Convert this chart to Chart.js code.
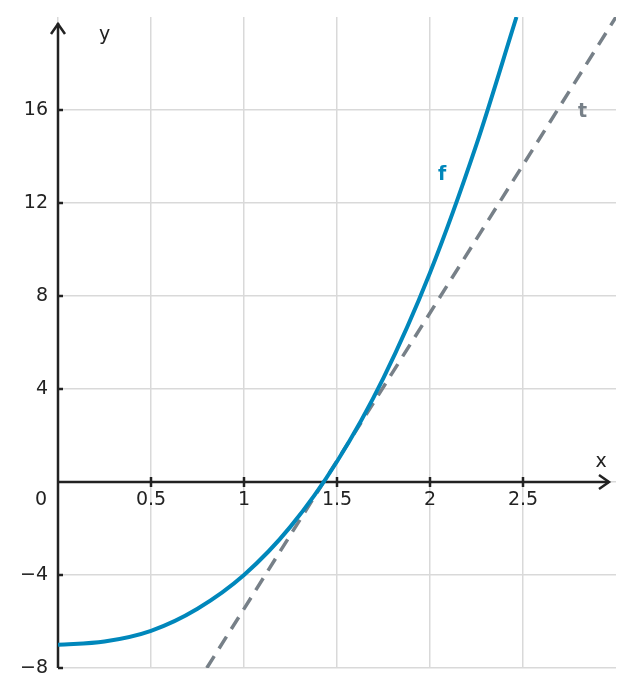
<!DOCTYPE html>
<html>
<head>
<meta charset="utf-8">
<script src="https://cdn.jsdelivr.net/npm/chart.js@4"></script>
<style>
  body { margin: 0; background: #fff; }
</style>
</head>
<body>
<canvas id="plotCanvas" width="633" height="696"></canvas>
<script>
// values
const fX = [0, 0.25, 0.5, 0.75, 1, 1.25, 1.5, 1.75, 2, 2.25, 2.465];
const fY = [-7, -6.86, -6.4, -5.45, -4, -1.92, 0.88, 4.48, 9, 14.52, 20];
const tX = [0.8, 3];
const tY = [-8, 20];

const xMin = 0, xMax = 3, xStep = 0.5;
const yMin = -8, yMax = 20, yStep = 4;

const blue = "#0087bb";
const gray = "#778088";
const ink = "#222222";
const font = "DejaVu Sans";

function toPoints(xs, ys) {
  var pts = [];
  for (let i = 0; i < xs.length; i++) {
    pts.push({ x: xs[i], y: ys[i] });
  }
  return pts;
}

function tickText(v) {
  return String(v).replace("-", "\u2212");
}

// axes through the origin, with arrows, tick marks and labels
const axesPlugin = {
  id: "axesPlugin",
  beforeDatasetsDraw(chart) {
    const ctx = chart.ctx;
    const xs = chart.scales.x, ys = chart.scales.y;
    const x0 = xs.getPixelForValue(0);
    const y0 = ys.getPixelForValue(0);
    const top = chart.chartArea.top, bottom = chart.chartArea.bottom;
    ctx.save();
    ctx.strokeStyle = ink;
    ctx.lineWidth = 2.5;
    ctx.lineCap = "butt";
    // y axis
    ctx.beginPath();
    ctx.moveTo(x0, bottom);
    ctx.lineTo(x0, top + 6);
    ctx.stroke();
    ctx.beginPath();
    ctx.moveTo(x0 - 7, top + 17);
    ctx.lineTo(x0, top + 7);
    ctx.lineTo(x0 + 7, top + 17);
    ctx.stroke();
    // x axis
    const xEnd = chart.chartArea.right - 7;
    ctx.beginPath();
    ctx.moveTo(x0, y0);
    ctx.lineTo(xEnd, y0);
    ctx.stroke();
    ctx.beginPath();
    ctx.moveTo(xEnd - 10, y0 - 7);
    ctx.lineTo(xEnd, y0);
    ctx.lineTo(xEnd - 10, y0 + 7);
    ctx.stroke();

    ctx.fillStyle = ink;
    ctx.font = "19px '" + font + "'";
    ctx.textBaseline = "middle";
    // x ticks and labels from the scale
    ctx.textAlign = "center";
    xs.ticks.forEach((t) => {
      if (t.value === 0 || t.value === xMax) return;
      const px = xs.getPixelForValue(t.value);
      ctx.beginPath();
      ctx.moveTo(px, y0 - 5);
      ctx.lineTo(px, y0 + 5);
      ctx.stroke();
      ctx.fillText(tickText(t.value), px, y0 + 18);
    });
    // y ticks and labels from the scale
    ctx.textAlign = "right";
    ys.ticks.forEach((t) => {
      if (t.value === 0 || t.value === yMax) return;
      const py = ys.getPixelForValue(t.value);
      ctx.beginPath();
      ctx.moveTo(x0, py);
      ctx.lineTo(x0 + 5, py);
      ctx.stroke();
      ctx.fillText(tickText(t.value), x0 - 10, py);
    });
    ctx.textAlign = "center";
    ctx.fillText("0", x0 - 17, y0 + 18);
    ctx.fillText("x", xs.getPixelForValue(2.92), y0 - 20);
    ctx.fillText("y", xs.getPixelForValue(0.25), top + 18);
    ctx.restore();
  },
  afterDatasetsDraw(chart) {
    const ctx = chart.ctx;
    const xs = chart.scales.x, ys = chart.scales.y;
    ctx.save();
    ctx.font = "bold 19px '" + font + "'";
    ctx.textAlign = "center";
    ctx.textBaseline = "middle";
    ctx.fillStyle = blue;
    ctx.fillText("f", xs.getPixelForValue(2.065), ys.getPixelForValue(13.2));
    ctx.fillStyle = gray;
    ctx.fillText("t", xs.getPixelForValue(2.82), ys.getPixelForValue(15.9));
    ctx.restore();
  }
};

new Chart(document.getElementById("plotCanvas"), {
  type: "scatter",
  data: {
    datasets: [
      {
        label: "f",
        data: toPoints(fX, fY),
        showLine: true,
        borderColor: blue,
        borderWidth: 4,
        pointRadius: 0,
        cubicInterpolationMode: "monotone"
      },
      {
        label: "t",
        data: toPoints(tX, tY),
        showLine: true,
        borderColor: gray,
        borderWidth: 3.5,
        borderDash: [14, 9],
        pointRadius: 0
      }
    ]
  },
  options: {
    responsive: false,
    animation: false,
    layout: { padding: { left: 58, top: 17, right: 17, bottom: 28 } },
    plugins: {
      legend: { display: false },
      tooltip: { enabled: false }
    },
    scales: {
      x: {
        type: "linear",
        min: xMin,
        max: xMax,
        border: { display: false },
        grid: {
          drawTicks: false,
          lineWidth: 1.5,
          color: (c) => (c.tick && c.tick.value === xMax) ? "rgba(0,0,0,0)" : "#d9d9d9"
        },
        ticks: { stepSize: xStep, display: false }
      },
      y: {
        type: "linear",
        min: yMin,
        max: yMax,
        border: { display: false },
        grid: {
          drawTicks: false,
          lineWidth: 1.5,
          color: (c) => (c.tick && c.tick.value === yMax) ? "rgba(0,0,0,0)" : "#d9d9d9"
        },
        ticks: { stepSize: yStep, display: false }
      }
    }
  },
  plugins: [axesPlugin]
});
</script>
</body>
</html>
